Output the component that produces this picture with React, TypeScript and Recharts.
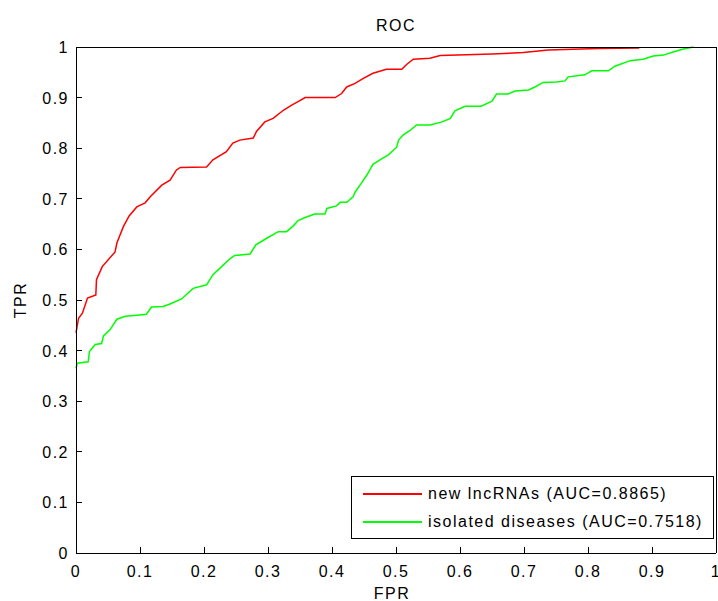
import React from 'react';
import { LineChart, Line, XAxis, YAxis, Legend } from 'recharts';

// ROC points (FPR, TPR)
const lncFpr = [0, 0.002, 0.004, 0.01, 0.018, 0.031, 0.032, 0.041, 0.061, 0.064, 0.074, 0.083, 0.095, 0.108, 0.116, 0.134, 0.147, 0.157, 0.163, 0.204, 0.214, 0.235, 0.245, 0.256, 0.277, 0.282, 0.295, 0.308, 0.324, 0.337, 0.347, 0.358, 0.405, 0.415, 0.423, 0.436, 0.449, 0.464, 0.485, 0.509, 0.517, 0.527, 0.553, 0.569, 0.65, 0.699, 0.738, 0.816, 0.88];
const lncTpr = [0.435, 0.45, 0.464, 0.474, 0.504, 0.51, 0.54, 0.566, 0.595, 0.613, 0.645, 0.666, 0.684, 0.692, 0.704, 0.727, 0.737, 0.757, 0.762, 0.763, 0.777, 0.793, 0.81, 0.816, 0.82, 0.833, 0.852, 0.859, 0.875, 0.885, 0.892, 0.9, 0.9, 0.908, 0.921, 0.928, 0.938, 0.948, 0.956, 0.956, 0.966, 0.976, 0.978, 0.983, 0.986, 0.989, 0.994, 0.997, 0.998];

const disFpr = [0, 0.002, 0.019, 0.021, 0.03, 0.04, 0.043, 0.053, 0.064, 0.077, 0.095, 0.11, 0.118, 0.136, 0.147, 0.165, 0.183, 0.204, 0.214, 0.225, 0.241, 0.248, 0.272, 0.281, 0.298, 0.316, 0.329, 0.34, 0.347, 0.358, 0.373, 0.389, 0.392, 0.407, 0.413, 0.423, 0.433, 0.436, 0.446, 0.455, 0.464, 0.475, 0.488, 0.501, 0.504, 0.511, 0.522, 0.532, 0.553, 0.572, 0.585, 0.592, 0.608, 0.633, 0.65, 0.657, 0.675, 0.686, 0.707, 0.717, 0.73, 0.751, 0.764, 0.769, 0.795, 0.806, 0.832, 0.842, 0.866, 0.886, 0.902, 0.918, 0.933, 0.949, 0.965];
const disTpr = [0.365, 0.375, 0.378, 0.398, 0.412, 0.414, 0.429, 0.441, 0.462, 0.468, 0.47, 0.472, 0.486, 0.487, 0.492, 0.502, 0.523, 0.53, 0.55, 0.563, 0.582, 0.588, 0.591, 0.609, 0.622, 0.635, 0.635, 0.647, 0.657, 0.663, 0.67, 0.67, 0.681, 0.686, 0.693, 0.693, 0.704, 0.713, 0.731, 0.748, 0.768, 0.777, 0.787, 0.802, 0.816, 0.826, 0.835, 0.846, 0.846, 0.852, 0.859, 0.874, 0.883, 0.883, 0.893, 0.907, 0.907, 0.913, 0.915, 0.921, 0.93, 0.931, 0.933, 0.941, 0.945, 0.953, 0.953, 0.962, 0.973, 0.976, 0.982, 0.984, 0.99, 0.996, 1];

const seriesNames = ['new lncRNAs (AUC=0.8865)', 'isolated diseases (AUC=0.7518)'];
const seriesColors = ['#ff0000', '#00ff00'];

const ticks = [0, 0.1, 0.2, 0.3, 0.4, 0.5, 0.6, 0.7, 0.8, 0.9, 1];

const lncData = lncFpr.map((f, i) => ({ fpr: f, tpr: lncTpr[i] }));
const disData = disFpr.map((f, i) => ({ fpr: f, tpr: disTpr[i] }));

const FONT = '"Liberation Sans", Arial, Helvetica, sans-serif';
const textStyle = { fontFamily: FONT, fontSize: 16, letterSpacing: 1.5, fill: '#000' };

const fmt = (v: number) => (v === 0 || v === 1 ? String(v) : v.toFixed(1));

// MATLAB style: ticks point into the plot box
const BottomTick = ({ x, y, payload }: any) => (
  <g>
    <line x1={x} x2={x} y1={y} y2={y - 6} stroke="#000" shapeRendering="crispEdges" />
    <text x={x} y={y + 24} textAnchor="middle" style={textStyle}>{fmt(payload.value)}</text>
  </g>
);

const TopTick = ({ x, y }: any) => (
  <line x1={x} x2={x} y1={y} y2={y + 6} stroke="#000" shapeRendering="crispEdges" />
);

const LeftTick = ({ x, y, payload }: any) => (
  <g>
    <line x1={x} x2={x + 6} y1={y} y2={y} stroke="#000" shapeRendering="crispEdges" />
    <text x={x - 7} y={y + 6} textAnchor="end" style={textStyle}>{fmt(payload.value)}</text>
  </g>
);

const RightTick = ({ x, y }: any) => (
  <line x1={x} x2={x - 6} y1={y} y2={y} stroke="#000" shapeRendering="crispEdges" />
);

const RocLegend = ({ payload }: any) => {
  // keep the plotting order, not the alphabetical one
  const items = [...(payload || [])].sort(
    (a: any, b: any) => seriesNames.indexOf(a.value) - seriesNames.indexOf(b.value)
  );
  return (
    <div
      style={{
        boxSizing: 'border-box',
        width: 363,
        height: 63,
        border: '1px solid #000',
        background: '#fff',
        paddingTop: 3,
        fontFamily: FONT,
        fontSize: 16,
        letterSpacing: 1.5,
        color: '#000',
      }}
    >
      {items.map((p: any) => (
        <div key={p.value} style={{ display: 'flex', alignItems: 'center', height: 28 }}>
          <div style={{ width: 59, height: 1.5, background: p.color, marginLeft: 11, marginRight: 6 }} />
          <span style={{ whiteSpace: 'nowrap' }}>{p.value}</span>
        </div>
      ))}
    </div>
  );
};

export default function App() {
  const axisLine = { stroke: '#000', shapeRendering: 'crispEdges' };
  return (
    <div style={{ position: 'absolute', left: 0, top: 0, width: 718, height: 601, background: '#fff' }}>
      <LineChart width={718} height={601} margin={{ top: 27, right: 0, bottom: 18, left: 16 }}>
        <XAxis
          xAxisId="bottom"
          dataKey="fpr"
          type="number"
          domain={[0, 1]}
          ticks={ticks}
          interval={0}
          height={30}
          tickSize={0}
          tickMargin={0}
          tickLine={false}
          axisLine={axisLine}
          tick={<BottomTick />}
        />
        <XAxis
          xAxisId="top"
          orientation="top"
          type="number"
          domain={[0, 1]}
          ticks={ticks}
          interval={0}
          height={20}
          tickSize={0}
          tickMargin={0}
          tickLine={false}
          axisLine={axisLine}
          tick={<TopTick />}
        />
        <YAxis
          yAxisId="left"
          type="number"
          domain={[0, 1]}
          ticks={ticks}
          interval={0}
          width={60}
          tickSize={0}
          tickMargin={0}
          tickLine={false}
          axisLine={axisLine}
          tick={<LeftTick />}
        />
        <YAxis
          yAxisId="right"
          orientation="right"
          type="number"
          domain={[0, 1]}
          ticks={ticks}
          interval={0}
          width={2}
          tickSize={0}
          tickMargin={0}
          tickLine={false}
          axisLine={axisLine}
          tick={<RightTick />}
        />
        <Line
          xAxisId="bottom"
          yAxisId="left"
          data={lncData}
          dataKey="tpr"
          name={seriesNames[0]}
          stroke={seriesColors[0]}
          strokeWidth={1.5}
          type="linear"
          dot={false}
          isAnimationActive={false}
        />
        <Line
          xAxisId="bottom"
          yAxisId="left"
          data={disData}
          dataKey="tpr"
          name={seriesNames[1]}
          stroke={seriesColors[1]}
          strokeWidth={1.5}
          type="linear"
          dot={false}
          isAnimationActive={false}
        />
        <Legend
          layout="vertical"
          align="center"
          verticalAlign="middle"
          content={<RocLegend />}
          wrapperStyle={{ left: 351, top: 476, width: 363, height: 63, right: 'auto', bottom: 'auto' }}
        />
        <text x={396} y={31} textAnchor="middle" style={textStyle}>ROC</text>
        <text x={392} y={599} textAnchor="middle" style={textStyle}>FPR</text>
        <text x={26} y={300} textAnchor="middle" transform="rotate(-90 26 300)" style={textStyle}>TPR</text>
      </LineChart>
    </div>
  );
}
